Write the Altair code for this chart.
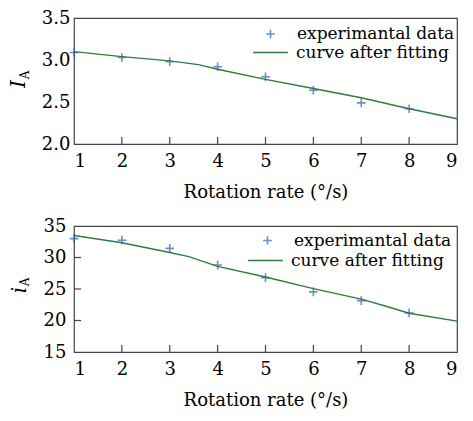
import altair as alt
import pandas as pd

# ---- data ----
x_exp = [1, 2, 3, 4, 5, 6, 7, 8]
top_exp = [3.09, 3.03, 2.98, 2.92, 2.80, 2.64, 2.49, 2.42]
bot_exp = [33.0, 32.75, 31.45, 28.8, 26.8, 24.55, 23.15, 21.2]

x_fit_top = [1, 2, 3, 3.6, 4, 5, 6, 7, 8, 9]
top_fit = [3.10, 3.04, 2.99, 2.945, 2.89, 2.77, 2.66, 2.55, 2.42, 2.30]
x_fit_bot = [1, 2, 3, 3.4, 4, 5, 6, 7, 7.5, 8, 9]
bot_fit = [33.5, 32.35, 30.8, 30.15, 28.6, 26.9, 25.05, 23.4, 22.3, 21.15, 19.9]

x_ticks = [1, 2, 3, 4, 5, 6, 7, 8, 9]
x_inner_ticks = [2, 3, 4, 5, 6, 7, 8]
top_yticks = [2.0, 2.5, 3.0, 3.5]
bot_yticks = [15, 20, 25, 30, 35]
bot_inner_yticks = [20, 25, 30]

LEG_EXP = "experimantal data"
LEG_FIT = "curve after fitting"
BLUE = "#2b5fb4"
GREEN = "#2e7d3a"
FONT = "DejaVu Serif"
AXFONT = "DejaVu Serif"
AXSIZE = 18
W, H = 383, 126
PLUS = "M-1,0H1M0,-1V1"


def panel(yexp, xfit, yfit, yticks, ydom, fmt, inner_y, ylab, show_ytick, leg):
    exp_df = pd.DataFrame({"x": x_exp, "y": yexp, "s": LEG_EXP})
    fit_df = pd.DataFrame({"x": xfit, "y": yfit, "s": LEG_FIT})
    xs = alt.Scale(domain=[1, 9], nice=False)
    ys = alt.Scale(domain=ydom, nice=False, zero=False)
    xax = alt.Axis(values=x_ticks, format="d", ticks=False, domain=False, grid=False,
                   labelPadding=8, labelOverlap=False, labelFont=AXFONT, titleFont=AXFONT,
                   labelFontSize=AXSIZE, titleFontSize=AXSIZE,
                   title="Rotation rate (°/s)", titlePadding=13)
    yax = alt.Axis(values=yticks, format=fmt, ticks=False, domain=False, grid=False,
                   labelOverlap=False, labelFont=AXFONT, labelFontSize=AXSIZE,
                   labelPadding=4 if not show_ytick else 8, title=None)
    (px, py, plo), (lx, ly, llo) = leg

    line = alt.Chart(fit_df).mark_line(strokeWidth=1.4).encode(
        x=alt.X("x:Q", scale=xs, axis=xax),
        y=alt.Y("y:Q", scale=ys, axis=yax),
        color=alt.Color("s:N", scale=alt.Scale(domain=[LEG_FIT], range=[GREEN]),
                        legend=alt.Legend(title=None, orient="none", legendX=lx, legendY=ly,
                                          symbolType="stroke", symbolSize=1200,
                                          symbolStrokeWidth=1.4, padding=0,
                                          labelOffset=llo)),
    )
    pts = alt.Chart(exp_df).mark_point(shape=PLUS, size=75, strokeWidth=1.6, filled=False).encode(
        x=alt.X("x:Q", scale=xs, axis=xax),
        y=alt.Y("y:Q", scale=ys, axis=yax),
        color=alt.Color("s:N", scale=alt.Scale(domain=[LEG_EXP], range=[BLUE]),
                        legend=alt.Legend(title=None, orient="none", legendX=px, legendY=py,
                                          symbolType=PLUS, symbolSize=75,
                                          symbolStrokeWidth=1.6, padding=0,
                                          labelOffset=plo)),
    )
    xt = alt.Chart(pd.DataFrame({"x": x_inner_ticks})).mark_rule(color="#444", strokeWidth=1.2).encode(
        x=alt.X("x:Q", scale=xs, axis=xax), y=alt.value(H), y2=alt.value(H - 7))
    layers = [line, pts, xt]
    if show_ytick:
        yt = alt.Chart(pd.DataFrame({"y": inner_y})).mark_rule(color="#444", strokeWidth=1.2).encode(
            y=alt.Y("y:Q", scale=ys, axis=yax), x=alt.value(0), x2=alt.value(7))
        layers.append(yt)
    main_lab, sub_lab, main_pos, sub_pos = ylab
    t1 = alt.Chart(pd.DataFrame({"t": [main_lab]})).mark_text(
        fontSize=20, fontStyle="italic", angle=270, color="black",
        align="center", baseline="middle").encode(
        text="t:N", x=alt.value(main_pos[0]), y=alt.value(main_pos[1]))
    t2 = alt.Chart(pd.DataFrame({"t": [sub_lab]})).mark_text(
        fontSize=12, angle=270, color="black",
        align="center", baseline="middle").encode(
        text="t:N", x=alt.value(sub_pos[0]), y=alt.value(sub_pos[1]))
    layers += [t1, t2]
    return alt.layer(*layers, view=alt.ViewBackground(stroke="#444", strokeWidth=1.2)).resolve_scale(
        color="independent").properties(width=W, height=H)


top = panel(top_exp, x_fit_top, top_fit, top_yticks, [2.0, 3.5], ".1f", [],
            ("I", "A", (-55, 66), (-49, 57)), False,
            ((188, 7.5, 18), (178, 16, 7)))
bot = panel(bot_exp, x_fit_bot, bot_fit, bot_yticks, [15, 35], "d", bot_inner_yticks,
            ("i", "A", (-54, 64), (-49, 56)), True,
            ((185, 6, 18), (173, 16, 7)))

chart = alt.vconcat(top, bot, spacing=14).properties(
    padding={"left": 0, "top": 0, "right": 0, "bottom": 0}
).configure(
    background="white", font=FONT,
    style={"guide-label": {"font": AXFONT, "fontSize": AXSIZE, "fill": "black"},
           "guide-title": {"font": AXFONT, "fontSize": AXSIZE, "fontWeight": "normal", "fill": "black"}},
).configure_axis(
    labelFont=AXFONT, labelFontSize=AXSIZE, labelColor="black",
    titleFont=AXFONT, titleFontSize=AXSIZE, titleFontWeight="normal", titleColor="black"
).configure_legend(
    labelFont=FONT, labelFontSize=17, labelColor="black"
).configure_text(font=FONT).configure_view(stroke="#444", strokeWidth=1.2)

chart.save("out.html", embed_options={"renderer": "svg", "actions": False})
